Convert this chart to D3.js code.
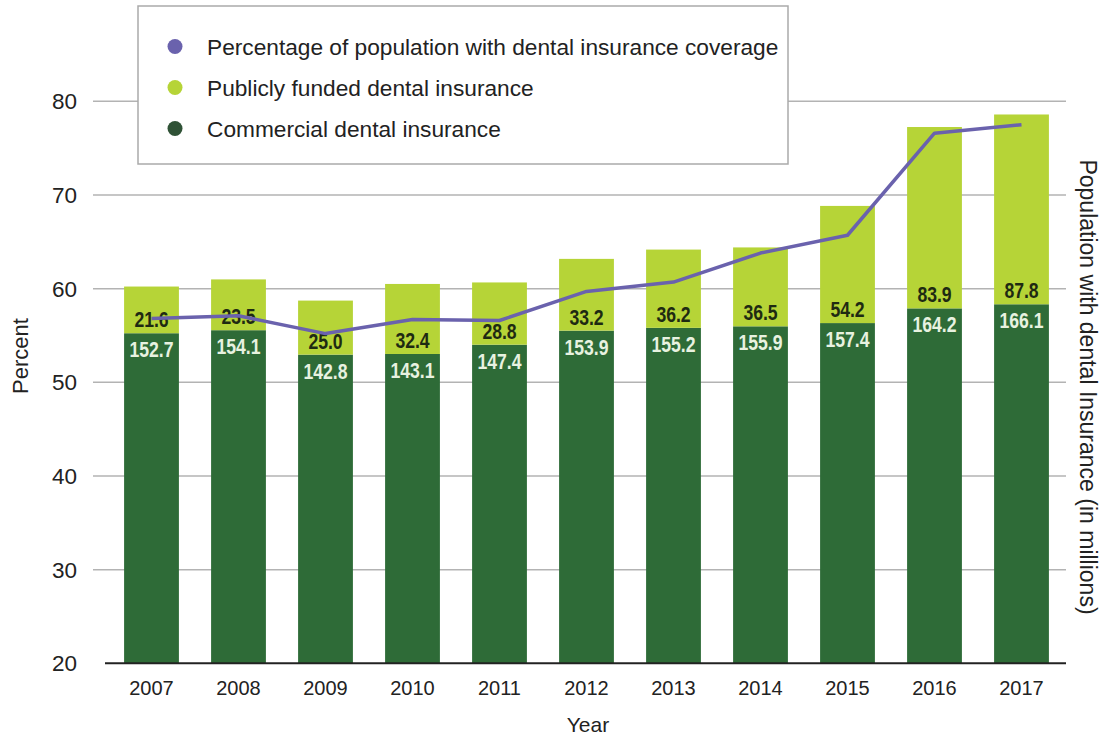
<!DOCTYPE html>
<html>
<head>
<meta charset="utf-8">
<script src="https://cdn.jsdelivr.net/npm/d3@7"></script>
<style>
  body { margin: 0; background: #fff; }
  svg { display: block; }
</style>
</head>
<body>
<svg id="chart" width="1111" height="736"></svg>
<script>
const years = ["2007", "2008", "2009", "2010", "2011", "2012", "2013", "2014", "2015", "2016", "2017"];
const commercial = [152.7, 154.1, 142.8, 143.1, 147.4, 153.9, 155.2, 155.9, 157.4, 164.2, 166.1];
const publicFunded = [21.6, 23.5, 25.0, 32.4, 28.8, 33.2, 36.2, 36.5, 54.2, 83.9, 87.8];
const coverage = [56.8, 57.1, 55.2, 56.7, 56.6, 59.7, 60.7, 63.8, 65.7, 76.6, 77.5];
const percentTicks = [20, 30, 40, 50, 60, 70, 80];
const legendLabels = [
    "Percentage of population with dental insurance coverage",
    "Publicly funded dental insurance",
    "Commercial dental insurance"
];

const darkGreen = "#2e6b37";
const lightGreen = "#b6d437";
const purple = "#6a62ad";
const font = "'Liberation Sans', Arial, sans-serif";

const svg = d3.select("#chart");

const x = d3.scaleBand()
    .domain(years)
    .range([108, 1065])
    .paddingInner(0.37)
    .paddingOuter(0.185);

const y = d3.scaleLinear().domain([20, 80]).range([663.3, 101.3]);
// bars use millions on the right side, no ticks drawn there
const yPop = d3.scaleLinear().domain([0, 260]).range([663.3, 101.3]);

// gridlines
svg.append("g")
    .selectAll("line")
    .data(percentTicks.filter(d => d > 20))
    .enter().append("line")
    .attr("x1", 93)
    .attr("x2", 1066)
    .attr("y1", d => y(d))
    .attr("y2", d => y(d))
    .attr("stroke", "#b3b3b3")
    .attr("stroke-width", 1.5);

// y tick labels
svg.append("g")
    .selectAll("text")
    .data(percentTicks)
    .enter().append("text")
    .attr("x", 77)
    .attr("y", d => y(d))
    .attr("dy", "0.36em")
    .attr("text-anchor", "end")
    .attr("font-family", font)
    .attr("font-size", 22.5)
    .attr("fill", "#222")
    .text(d => d);

const rows = years.map((yr, i) => ({
    year: yr,
    com: commercial[i],
    pub: publicFunded[i],
    pct: coverage[i]
}));

// commercial (bottom)
svg.append("g")
    .selectAll("rect")
    .data(rows)
    .enter().append("rect")
    .attr("x", d => x(d.year))
    .attr("width", x.bandwidth())
    .attr("y", d => yPop(d.com))
    .attr("height", d => yPop(0) - yPop(d.com))
    .attr("fill", darkGreen);

// publicly funded (top)
svg.append("g")
    .selectAll("rect")
    .data(rows)
    .enter().append("rect")
    .attr("x", d => x(d.year))
    .attr("width", x.bandwidth())
    .attr("y", d => yPop(d.com + d.pub))
    .attr("height", d => yPop(d.com) - yPop(d.com + d.pub))
    .attr("fill", lightGreen);

// baseline
svg.append("line")
    .attr("x1", 105)
    .attr("x2", 1066)
    .attr("y1", y(20))
    .attr("y2", y(20))
    .attr("stroke", "#222")
    .attr("stroke-width", 2);

const fmt = d3.format(".1f");
const cx = d => x(d.year) + x.bandwidth() / 2;

// value labels, squeezed to look condensed
svg.append("g")
    .selectAll("text")
    .data(rows)
    .enter().append("text")
    .attr("transform", d => `translate(${cx(d)},${yPop(d.com) - 6}) scale(0.8,1)`)
    .attr("text-anchor", "middle")
    .attr("font-family", font)
    .attr("font-weight", "bold")
    .attr("font-size", 22)
    .attr("fill", "#1e2a12")
    .text(d => fmt(d.pub));

svg.append("g")
    .selectAll("text")
    .data(rows)
    .enter().append("text")
    .attr("transform", d => `translate(${cx(d)},${yPop(d.com) + 24}) scale(0.8,1)`)
    .attr("text-anchor", "middle")
    .attr("font-family", font)
    .attr("font-weight", "bold")
    .attr("font-size", 22)
    .attr("fill", "#e8f2e0")
    .text(d => fmt(d.com));

// coverage line
const line = d3.line()
    .x(cx)
    .y(d => y(d.pct));

svg.append("path")
    .datum(rows)
    .attr("d", line)
    .attr("fill", "none")
    .attr("stroke", purple)
    .attr("stroke-width", 3.5)
    .attr("stroke-linejoin", "round");

// x tick labels
svg.append("g")
    .selectAll("text")
    .data(years)
    .enter().append("text")
    .attr("x", d => x(d) + x.bandwidth() / 2)
    .attr("y", 695)
    .attr("text-anchor", "middle")
    .attr("font-family", font)
    .attr("font-size", 20)
    .attr("fill", "#222")
    .text(d => d);

// axis titles
svg.append("text")
    .attr("transform", "translate(28,356) rotate(-90)")
    .attr("text-anchor", "middle")
    .attr("font-family", font)
    .attr("font-size", 22)
    .attr("fill", "#222")
    .text("Percent");

svg.append("text")
    .attr("x", 588)
    .attr("y", 732)
    .attr("text-anchor", "middle")
    .attr("font-family", font)
    .attr("font-size", 21)
    .attr("fill", "#222")
    .text("Year");

svg.append("text")
    .attr("transform", "translate(1080,387) rotate(90)")
    .attr("text-anchor", "middle")
    .attr("font-family", font)
    .attr("font-size", 23)
    .attr("fill", "#222")
    .text("Population with dental Insurance (in millions)");

// legend
const legend = svg.append("g");
legend.append("rect")
    .attr("x", 138)
    .attr("y", 6)
    .attr("width", 650)
    .attr("height", 158)
    .attr("fill", "#fff")
    .attr("stroke", "#aaa")
    .attr("stroke-width", 1.5);

const legendColors = [purple, lightGreen, "#2f5236"];
const legendItems = legend.selectAll("g.item")
    .data(legendLabels)
    .enter().append("g")
    .attr("class", "item")
    .attr("transform", (d, i) => `translate(0,${46.5 + i * 41})`);

legendItems.append("circle")
    .attr("cx", 175)
    .attr("cy", 0)
    .attr("r", 7.5)
    .attr("fill", (d, i) => legendColors[i]);

legendItems.append("text")
    .attr("x", 207)
    .attr("y", 0)
    .attr("dy", "0.36em")
    .attr("font-family", font)
    .attr("font-size", 22.7)
    .attr("fill", "#222")
    .text(d => d);
</script>
</body>
</html>
